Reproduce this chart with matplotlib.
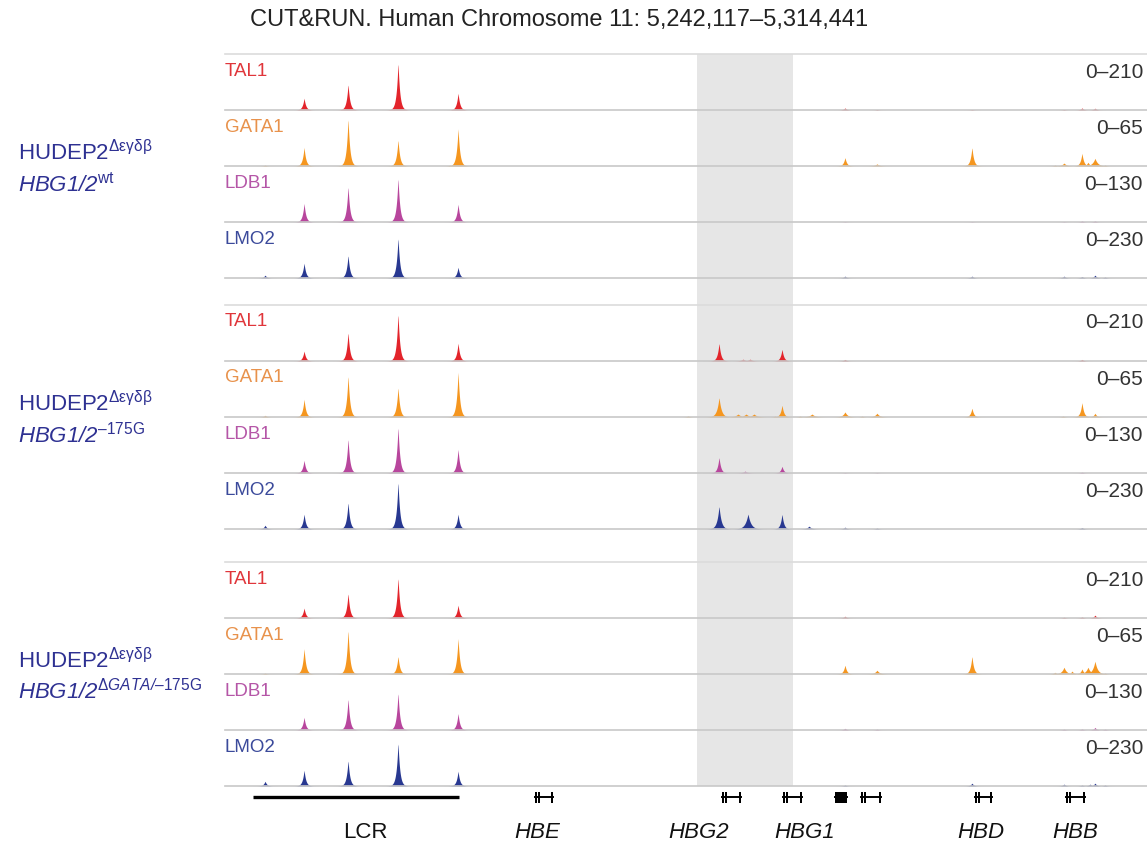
import numpy as np
import matplotlib.pyplot as plt
from matplotlib.patches import Rectangle

plt.rcParams['font.family'] = ['Liberation Sans', 'DejaVu Sans']
plt.rcParams['mathtext.fontset'] = 'custom'
plt.rcParams['mathtext.rm'] = 'Liberation Sans'
plt.rcParams['mathtext.it'] = 'Liberation Sans:italic'
plt.rcParams['mathtext.sf'] = 'Liberation Sans:italic'

# region shown (hg19), drawn LCR on the left -> axis reversed
chrom_start = 5242117
chrom_end = 5314441
highlight = (5277420, 5269890)

factors = ['TAL1', 'GATA1', 'LDB1', 'LMO2']
data_ranges = [210, 65, 130, 230]
fill_colors = ['#e3242b', '#f5961f', '#b8469d', '#283891']
label_colors = ['#e0363b', '#e8924c', '#b556a7', '#3b4a9b']

# peaks: (position, signal) or (position, signal, width in bp)
wt_tal1 = [(5308240, 45), (5304790, 98), (5300870, 180), (5296160, 64),
           (5265810, 8), (5263300, 2), (5255850, 2), (5248630, 2), (5247220, 8), (5246200, 7)]
wt_gata1 = [(5311300, 1), (5308240, 22), (5304790, 56), (5300870, 31), (5296790, 1), (5296160, 44),
            (5265810, 10), (5263300, 2.5, 200), (5255850, 22), (5249340, 1), (5248630, 3.5, 200),
            (5247220, 15), (5246750, 4.5), (5246200, 9, 220), (5245410, 1)]
wt_ldb1 = [(5308240, 44), (5304790, 84), (5300870, 104), (5296160, 42),
           (5265810, 1), (5255850, 1), (5248630, 1), (5247220, 2.5), (5246200, 2.5)]
wt_lmo2 = [(5311300, 12), (5308240, 62), (5304790, 95), (5300870, 168), (5296160, 45),
           (5265810, 8), (5255850, 8), (5248630, 8), (5247220, 6), (5246200, 12), (5245410, 4)]

mut_tal1 = [(5308240, 38), (5304790, 109), (5300870, 180), (5296160, 68),
            (5275690, 68), (5273810, 7, 200), (5273260, 7, 200), (5270750, 45),
            (5265810, 6), (5247220, 6)]
mut_gata1 = [(5311300, 2), (5308240, 21), (5304790, 49), (5300870, 35), (5296160, 53),
             (5278120, 1.2), (5275690, 23, 180), (5274200, 3.5, 250), (5273570, 3.5, 250),
             (5272950, 3.5, 250), (5271300, 1), (5270750, 14), (5269340, 1), (5268400, 3.5, 250),
             (5265810, 6, 200), (5264470, 1), (5263300, 4.5, 200), (5255850, 10.5),
             (5248710, 1), (5247220, 17), (5246200, 4.5)]
mut_ldb1 = [(5308240, 30), (5304790, 81), (5300870, 109), (5296160, 56),
            (5275690, 37), (5273650, 4.5, 200), (5270750, 16),
            (5265810, 1), (5263300, 1), (5247220, 2)]
mut_lmo2 = [(5311300, 16), (5308240, 62), (5304790, 111), (5300870, 197), (5296160, 62),
            (5275690, 95, 170), (5273420, 62, 230), (5270750, 62), (5268630, 12, 200),
            (5265810, 8), (5263300, 4), (5247220, 6)]

dg_tal1 = [(5308240, 38), (5304790, 94), (5300870, 154), (5296160, 49),
           (5265810, 7), (5248630, 3), (5247220, 4), (5246200, 11)]
dg_gata1 = [(5311300, 1), (5308240, 30), (5304790, 52), (5300870, 21), (5296160, 42),
            (5265810, 10.5), (5263300, 4.5, 200), (5255850, 21), (5249340, 2),
            (5248630, 8, 200), (5248000, 3.5), (5247220, 6), (5246750, 8, 200),
            (5246200, 15, 200), (5245410, 1)]
dg_ldb1 = [(5308240, 30), (5304790, 74), (5300870, 88), (5296160, 39),
           (5265810, 4), (5263300, 2), (5248630, 2), (5247220, 2.5), (5246200, 6), (5245410, 2)]
dg_lmo2 = [(5311300, 20), (5308240, 66), (5304790, 107), (5300870, 181), (5296160, 62),
           (5265810, 4), (5255850, 12), (5248630, 8), (5247220, 4), (5246590, 8),
           (5246200, 12), (5245410, 4)]

samples = [[wt_tal1, wt_gata1, wt_ldb1, wt_lmo2],
           [mut_tal1, mut_gata1, mut_ldb1, mut_lmo2],
           [dg_tal1, dg_gata1, dg_ldb1, dg_lmo2]]
sample_line1 = r'$\mathrm{HUDEP2}^{\mathrm{Δεγδβ}}$'
sample_line2 = [r'$\mathsf{HBG1/2}^{\mathrm{wt}}$',
                r'$\mathsf{HBG1/2}^{\mathrm{–175G}}$',
                r'$\mathsf{HBG1/2}^{\mathrm{Δ}\mathsf{GATA/}\mathrm{–175G}}$']

lcr_span = (5312245, 5296086)
gene_exons = [
    [(5290120, 5289950), (5289860, 5289700), (5288900, 5288710)],
    [(5275460, 5275290), (5275200, 5275040), (5274160, 5273970)],
    [(5270670, 5270500), (5270410, 5270250), (5269370, 5269180)],
    [(5266590, 5265650)],
    [(5264550, 5264420), (5264280, 5264150), (5263150, 5262980)],
    [(5255610, 5255440), (5255350, 5255190), (5254470, 5254280)],
    [(5248470, 5248300), (5248210, 5248050), (5247170, 5246980)],
]
gene_labels = ['LCR', 'HBE', 'HBG2', 'HBG1', 'HBD', 'HBB']
gene_label_pos = [5303460, 5289970, 5277260, 5268950, 5255140, 5247770]

W, H = 1147, 863
fig = plt.figure(figsize=(W / 100, H / 100), dpi=100)

def px_axes(x0, y0, x1, y1):
    # axes from pixel box (top-left origin)
    return fig.add_axes([x0 / W, 1 - y1 / H, (x1 - x0) / W, (y1 - y0) / H])

track_x0, track_x1 = 225, 1147
group_tops = [54, 305, 562]
row_h = 56

# grey highlight behind everything
bg = px_axes(track_x0, group_tops[0], track_x1, group_tops[2] + 4 * row_h)
bg.set_xlim(chrom_end, chrom_start)
bg.axvspan(highlight[0], highlight[1], color='#e6e6e6', lw=0)
bg.axis('off')

xs = np.arange(chrom_start, chrom_end, 20)

for g, tracks in enumerate(samples):
    top = group_tops[g]
    for i, peaks in enumerate(tracks):
        y0 = top + i * row_h
        ax = px_axes(track_x0, y0, track_x1, y0 + row_h)
        ax.set_facecolor('none')
        prof = np.zeros_like(xs, dtype=float)
        for p in peaks:
            w = p[2] if len(p) > 2 else 140
            prof = np.maximum(prof, p[1] * np.exp(-np.abs(xs - p[0]) / w))
        prof = np.minimum(prof, data_ranges[i])
        ax.fill_between(xs, 0, prof, color=fill_colors[i], lw=0)
        ax.set_xlim(chrom_end, chrom_start)
        ax.set_ylim(0, data_ranges[i])
        ax.set_xticks([])
        ax.set_yticks([])
        for s in ['left', 'right']:
            ax.spines[s].set_visible(False)
        ax.spines['bottom'].set_color('#c8c8c8')
        ax.spines['bottom'].set_linewidth(1.2)
        if i == 0:
            ax.spines['top'].set_color('#dcdcdc')
            ax.spines['top'].set_linewidth(1.2)
        else:
            ax.spines['top'].set_visible(False)
        ax.text(0.0, 1 - 17 / row_h, factors[i], transform=ax.transAxes,
                color=label_colors[i], fontsize=13.5, va='center', ha='left')
        ax.text(1143 / W, 1 - (y0 + 18) / H, '0–%d' % data_ranges[i],
                transform=fig.transFigure, color='#333333', fontsize=15,
                va='center', ha='right')
    fig.text(18 / W, 1 - (top + 106) / H, sample_line1, color='#2e3192',
             fontsize=16, va='baseline', ha='left')
    fig.text(18 / W, 1 - (top + 137) / H, sample_line2[g], color='#2e3192',
             fontsize=16, va='baseline', ha='left')

# gene track
ga = px_axes(track_x0, group_tops[2] + 4 * row_h, track_x1, H)
ga.set_xlim(chrom_end, chrom_start)
ga.set_ylim(H - (group_tops[2] + 4 * row_h), 0)
ga.axis('off')
ga.plot(lcr_span, [11, 11], color='black', lw=2.4, solid_capstyle='butt')
for exons in gene_exons:
    ga.plot([exons[0][0], exons[-1][1]], [11, 11], color='black', lw=1.4)
    for a, b in exons:
        ga.add_patch(Rectangle((b, 5.5), a - b, 11, color='black', lw=0))
for name, pos in zip(gene_labels, gene_label_pos):
    ga.text(pos, 46, name, fontsize=16, ha='center', va='center',
            style='normal' if name == 'LCR' else 'italic', color='#111111')

fig.text(559 / W, 1 - 20 / H, 'CUT&RUN. Human Chromosome 11: 5,242,117–5,314,441',
         fontsize=17, ha='center', va='center', color='#222222')

fig.savefig('out.png', dpi=100)
